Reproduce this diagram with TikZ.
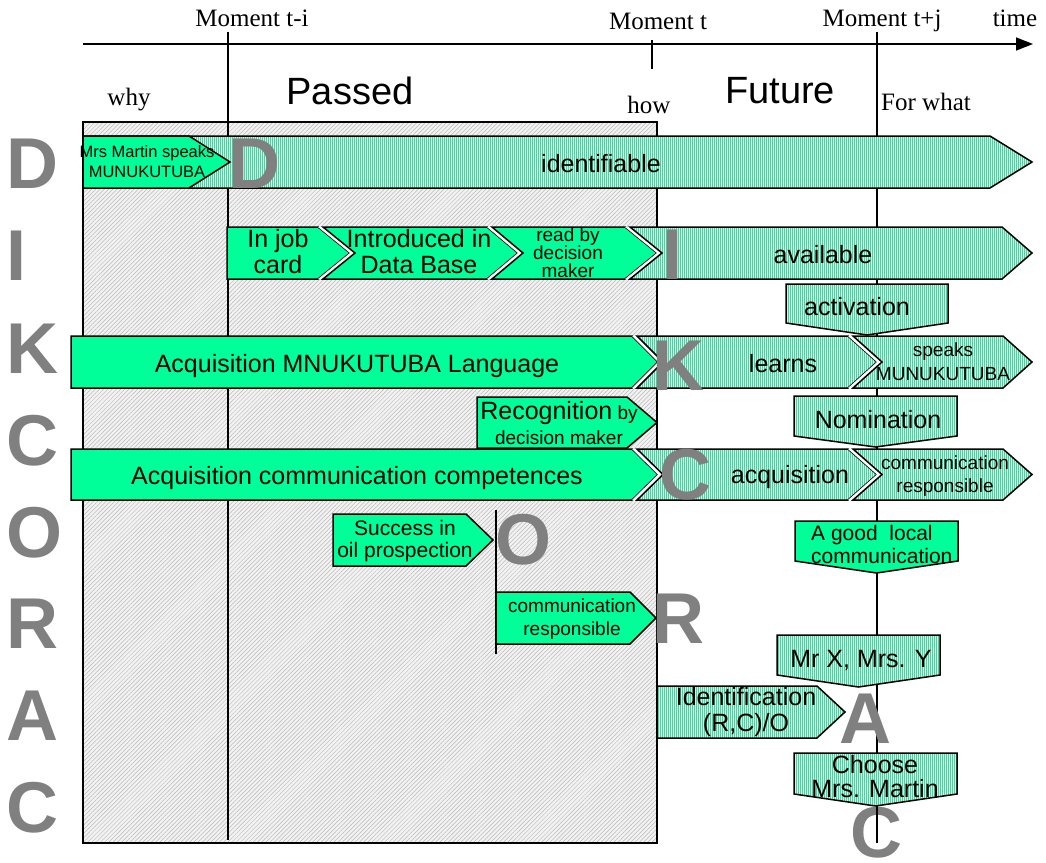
\documentclass[tikz,border=0pt]{standalone}
\usepackage{fontspec}
\setmainfont{Liberation Serif}
\newfontfamily\hvf{Liberation Sans}
\usetikzlibrary{patterns.meta,arrows.meta}
\definecolor{mint}{RGB}{0,255,153}
\definecolor{mintlt}{RGB}{205,245,230}
\definecolor{mintdot}{RGB}{70,210,165}
\definecolor{hatchbg}{RGB}{242,242,242}
\definecolor{bigletter}{RGB}{128,128,128}
\tikzset{
  outl/.style={draw=black,line width=1.5pt,line join=miter},
  greenshape/.style={outl,fill=mint},
  cyanshape/.style={outl,preaction={fill=mintlt},pattern={Lines[angle=90,distance=2pt,line width=0.55pt]},pattern color=mintdot},
  hatchbox/.style={draw=black,line width=1.2pt,preaction={fill=hatchbg},pattern={Lines[angle=45,distance=3pt,line width=0.5pt]},pattern color=gray!55},
  rule/.style={draw=black,line width=1.5pt},
  serif/.style={font=\fontsize{25}{27}\selectfont,inner sep=0pt,anchor=base},
  huge/.style={font=\hvf\fontsize{38}{40}\selectfont,inner sep=0pt,anchor=base},
  lab/.style={font=\hvf\fontsize{25}{26}\selectfont,inner sep=0pt,align=center},
  labbase/.style={font=\hvf\fontsize{25}{26}\selectfont,inner sep=0pt,anchor=base},
  bigl/.style={font=\hvf\bfseries\fontsize{72}{72}\selectfont,text=bigletter,inner sep=0pt,anchor=base west}
}
% right-pointing arrow: style, x0, x1, x2, ytop, ybot
\newcommand\rarr[6]{\path[#1] (#2,#5) -- (#3,#5) -- (#4,{(#5+#6)/2}) -- (#3,#6) -- (#2,#6) -- cycle;}
% chevron: style, x0, x1, x2, ytop, ybot, notch depth
\newcommand\chevr[7]{%
  \fill[white] ({#2-5},#5) -- (#2,#5) -- ({#2+#7},{(#5+#6)/2}) -- (#2,#6) -- ({#2-5},#6) -- ({#2-5+#7},{(#5+#6)/2}) -- cycle;
  \path[#1] (#2,#5) -- (#3,#5) -- (#4,{(#5+#6)/2}) -- (#3,#6) -- (#2,#6) -- ({#2+#7},{(#5+#6)/2}) -- cycle;}
% down pentagon: style, x0, x1, ytop, yside, ypoint
\newcommand\dpent[6]{\path[#1] (#2,#4) -- (#3,#4) -- (#3,#5) -- ({(#2+#3)/2},#6) -- (#2,#5) -- cycle;}
\begin{document}
\begin{tikzpicture}[x=1pt,y=-1pt]
\useasboundingbox (0,0) rectangle (1046,862);
\fill[white] (0,0) rectangle (1046,862);
% past region
\path[hatchbox] (83,122) rectangle (657,843);
% axis and moment lines
\coordinate (ax0) at (83,44);
\coordinate (ax1) at (1033,44);
\draw[rule,-{Triangle[length=17pt,width=13pt]}] (ax0) -- (ax1);
\coordinate (ti0) at (228,32);
\coordinate (ti1) at (228,840);
\draw[rule] (ti0) -- (ti1);
\coordinate (tt0) at (652,40);
\coordinate (tt1) at (652,69);
\draw[rule] (tt0) -- (tt1);
\coordinate (tj0) at (877,32);
\coordinate (tj1) at (877,843);
\draw[rule] (tj0) -- (tj1);
\coordinate (to0) at (496,510);
\coordinate (to1) at (496,654);
\draw[rule] (to0) -- (to1);
% header texts
\node[serif] (mti) at (252,27) {Moment t-i};
\node[serif] (mt) at (658,29) {Moment t};
\node[serif] (mtj) at (882,27) {Moment t+j};
\node[serif] (time) at (1015,27) {time};
\node[serif] (why) at (129,105) {why};
\node[serif] (how) at (649,113) {how};
\node[serif] (forwhat) at (926,110) {For what};
\node[huge] (passed) at (350,104) {Passed};
\node[huge] (future) at (780,103) {Future};
% row D
\rarr{cyanshape}{83}{990}{1032}{136}{188}
\rarr{greenshape}{83}{189}{230}{136}{188}
% row I
\rarr{greenshape}{227}{318}{350}{227}{279}
\chevr{greenshape}{323}{487}{518}{227}{279}{32}
\chevr{greenshape}{492}{625}{657}{227}{279}{31}
\chevr{cyanshape}{630}{1002}{1032}{227}{279}{32}
\dpent{cyanshape}{786}{948}{284}{323}{335}
% row K
\rarr{greenshape}{71}{632}{658}{336}{388}
\chevr{cyanshape}{637}{848}{877}{336}{388}{26}
\chevr{cyanshape}{853}{1003}{1032}{336}{388}{29}
\rarr{greenshape}{477}{627}{657}{397}{448}
\dpent{cyanshape}{794}{957}{396}{436}{447}
% row C
\rarr{greenshape}{71}{632}{658}{449}{500}
\chevr{cyanshape}{637}{848}{877}{449}{500}{26}
\chevr{cyanshape}{853}{1003}{1032}{449}{500}{29}
% rows O R A C
\rarr{greenshape}{333}{466}{493}{514}{566}
\rarr{greenshape}{496}{630}{656}{592}{644}
\dpent{greenshape}{795}{958}{521}{561}{573}
\dpent{cyanshape}{777}{940}{635}{675}{687}
\rarr{cyanshape}{657}{817}{845}{686}{738}
\dpent{cyanshape}{794}{957}{753}{794}{806}
% big grey letters, left column
\node[bigl] (lD) at (6,188) {D};
\node[bigl] (lI) at (6,280) {I};
\node[bigl] (lK) at (6,373) {K};
\node[bigl] (lC) at (6,465) {C};
\node[bigl] (lO) at (6,557) {O};
\node[bigl] (lR) at (6,648) {R};
\node[bigl] (lA) at (6,740) {A};
\node[bigl] (lC2) at (6,832) {C};
% big grey letters, in the diagram
\node[bigl] (gD) at (228,188) {D};
\node[bigl] (gI) at (662,279) {I};
\node[bigl] (gK) at (652,390) {K};
\node[bigl] (gC) at (659,499) {C};
\node[bigl] (gO) at (495,564) {O};
\node[bigl] (gR) at (652,643) {R};
\node[bigl] (gA) at (839,743) {A};
\node[bigl] (gC2) at (850,857) {C};
\coordinate (tjc) at (877,806);
\draw[rule] (tjc) -- (tj1);
% labels
\node[lab,font=\hvf\fontsize{16.5}{20}\selectfont] (mrsm) at (147,162) {Mrs Martin speaks\\MUNUKUTUBA};
\node[labbase] (ident) at (601,172) {identifiable};
\node[lab] (jobcard) at (278,252) {In job\\card};
\node[lab] (database) at (419,252) {Introduced in\\Data Base};
\node[lab,font=\hvf\fontsize{19}{17.5}\selectfont] (readby) at (568,252.5) {read by\\decision\\maker};
\node[labbase] (avail) at (823,263) {available};
\node[labbase] (activ) at (857,315) {activation};
\node[labbase] (acqlang) at (357,372) {Acquisition MNUKUTUBA Language};
\node[labbase] (learns) at (783,372) {learns};
\node[lab,font=\hvf\fontsize{19}{24}\selectfont] (speaks) at (943,362) {speaks\\MUNUKUTUBA};
\node[lab,font=\hvf\fontsize{19}{25}\selectfont] (recog) at (559,423.5) {{\fontsize{25}{25}\selectfont Recognition} by\\decision maker};
\node[labbase] (nomin) at (878,428) {Nomination};
\node[labbase] (acqcomm) at (357,484) {Acquisition communication competences};
\node[labbase] (acquis) at (790,483) {acquisition};
\node[lab,font=\hvf\fontsize{19}{23}\selectfont] (commresp1) at (945,476.5) {communication\\responsible};
\node[lab,font=\hvf\fontsize{21}{22}\selectfont] (success) at (405,541.5) {Success in\\oil prospection};
\node[lab,font=\hvf\fontsize{21}{23}\selectfont,align=left,anchor=west] (goodlocal) at (811,544) {A good\ \ local\\communication};
\node[lab,font=\hvf\fontsize{19}{23}\selectfont] (commresp2) at (572,619.5) {communication\\responsible};
\node[labbase] (mrxy) at (861,667) {Mr X, Mrs. Y};
\node[lab] (identif) at (746,712.5) {Identification\\(R,C)/O};
\node[lab,font=\hvf\fontsize{25}{24}\selectfont] (choose) at (875,777) {Choose\\Mrs. Martin};
\end{tikzpicture}
\end{document}
